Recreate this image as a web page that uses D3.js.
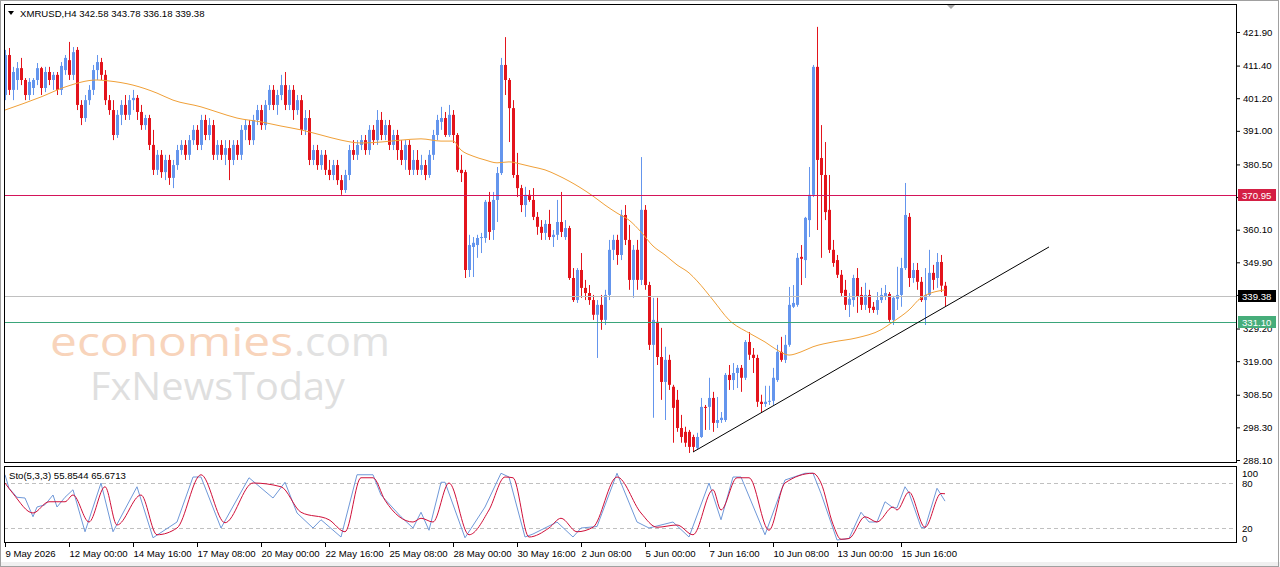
<!DOCTYPE html>
<html>
<head>
<meta charset="utf-8">
<script src="https://cdnjs.cloudflare.com/ajax/libs/d3/7.8.5/d3.min.js"></script>
<style>
html, body { margin: 0; padding: 0; background: #fff; }
svg { display: block; font-family: "Liberation Sans", Arial, sans-serif; }
</style>
</head>
<body>
<svg id="chart" width="1280" height="567"></svg>
<script>

// ---------------- data ----------------

var symbol = "XMRUSD,H4";
var firstBar = Date.UTC(2026, 4, 9, 8, 0);   // first H4 bar on screen
var barMs = 4 * 3600 * 1000;

// [open, high, low, close] for each H4 bar
var ohlc = [
    [402.2, 416.3, 400.6, 414.7], [414.7, 416.9, 402.2, 403.8], [403.8, 411.0, 400.6, 409.4], [406.9, 412.5, 403.8, 410.6], [410.6, 413.8, 405.3, 406.9],
    [406.9, 407.5, 400.6, 402.2], [402.2, 407.5, 400.6, 406.3], [404.4, 407.5, 402.2, 406.9], [406.9, 412.2, 405.3, 410.6], [410.6, 411.0, 402.2, 404.4],
    [404.4, 411.0, 403.1, 409.4], [409.4, 411.0, 405.3, 406.9], [406.9, 409.4, 403.8, 408.5], [408.5, 409.4, 402.2, 403.8], [403.8, 412.5, 402.2, 411.3],
    [410.0, 414.7, 408.5, 413.8], [413.1, 418.8, 406.9, 408.5], [408.5, 417.2, 406.9, 415.6], [416.3, 417.2, 397.5, 399.1], [399.1, 400.6, 392.8, 395.0],
    [395.0, 402.2, 393.8, 400.6], [400.6, 405.3, 399.1, 403.8], [403.8, 411.6, 402.2, 410.0], [410.0, 414.7, 406.9, 412.5], [412.5, 413.8, 406.9, 408.5],
    [408.5, 410.0, 399.1, 400.6], [400.6, 402.2, 396.0, 397.5], [397.5, 400.6, 388.1, 389.7], [389.7, 397.5, 388.8, 396.0], [396.0, 400.6, 392.8, 399.1],
    [399.1, 402.2, 394.4, 396.0], [396.0, 402.2, 394.4, 400.6], [400.6, 403.8, 397.5, 401.3], [401.3, 402.2, 394.4, 396.9], [396.9, 399.1, 391.3, 392.8],
    [392.8, 396.0, 391.3, 395.0], [395.0, 396.0, 385.0, 386.6], [386.6, 391.3, 377.2, 378.8], [378.8, 385.0, 377.2, 383.5], [383.5, 385.0, 376.3, 378.1],
    [378.1, 383.5, 375.6, 381.9], [381.9, 383.5, 374.1, 376.3], [376.3, 381.9, 373.1, 380.3], [380.3, 386.6, 378.8, 385.0], [385.0, 388.1, 383.5, 386.6],
    [386.6, 388.1, 381.9, 383.5], [383.5, 389.7, 381.9, 388.1], [388.1, 392.8, 386.6, 391.3], [391.3, 392.8, 385.0, 386.6], [386.6, 396.0, 385.0, 394.4],
    [394.4, 396.0, 388.1, 389.7], [389.7, 395.0, 388.1, 392.8], [392.8, 394.4, 381.9, 383.5], [383.5, 388.1, 381.9, 386.6], [386.6, 388.1, 381.9, 383.5],
    [383.5, 388.1, 380.3, 385.6], [385.6, 388.1, 375.6, 381.9], [381.9, 388.1, 380.3, 386.6], [386.6, 388.1, 381.9, 383.5], [383.5, 392.8, 381.9, 391.3],
    [391.3, 394.4, 388.1, 392.8], [392.8, 394.4, 386.6, 388.1], [388.1, 396.0, 386.6, 394.4], [394.4, 399.1, 392.8, 397.5], [397.5, 399.1, 391.3, 392.8],
    [392.8, 400.6, 391.3, 399.1], [399.1, 405.3, 397.5, 403.8], [403.8, 405.3, 397.5, 399.1], [399.1, 403.8, 396.0, 402.2], [402.2, 408.5, 400.6, 405.3],
    [405.3, 409.4, 397.5, 399.1], [399.1, 405.3, 397.5, 403.8], [403.8, 405.3, 394.4, 397.5], [397.5, 402.2, 396.0, 400.6], [400.6, 402.2, 389.7, 391.3],
    [391.3, 397.5, 389.7, 395.0], [395.0, 397.5, 380.3, 381.9], [381.9, 386.6, 380.3, 385.0], [385.0, 386.6, 378.8, 380.3], [380.3, 385.0, 378.8, 383.5],
    [383.5, 385.0, 377.2, 378.8], [378.8, 381.9, 375.6, 377.2], [377.2, 381.9, 375.6, 380.3], [380.3, 381.9, 374.1, 375.6], [375.6, 377.2, 371.0, 372.5],
    [372.5, 378.8, 371.6, 377.2], [377.2, 386.6, 375.6, 385.0], [385.0, 388.1, 381.9, 383.5], [383.5, 388.1, 381.9, 386.6], [386.6, 389.7, 385.0, 388.1],
    [388.1, 389.7, 383.5, 385.0], [385.0, 392.8, 383.5, 391.3], [391.3, 392.8, 386.6, 388.1], [388.1, 397.5, 386.6, 394.4], [394.4, 396.9, 388.1, 389.7],
    [389.7, 394.4, 388.1, 392.8], [392.8, 394.4, 385.0, 386.6], [386.6, 391.3, 385.0, 389.7], [389.7, 391.3, 381.9, 385.0], [385.0, 388.1, 380.3, 381.9],
    [381.9, 388.1, 378.8, 386.6], [386.6, 388.1, 377.2, 378.8], [378.8, 385.0, 377.2, 381.9], [381.9, 385.0, 377.2, 378.8], [378.8, 383.5, 377.2, 380.3],
    [380.3, 381.9, 375.6, 377.2], [377.2, 385.0, 376.3, 383.5], [383.5, 391.3, 381.9, 389.7], [389.7, 396.0, 388.1, 394.4], [393.8, 398.5, 391.3, 395.0],
    [395.0, 396.9, 389.1, 389.7], [389.7, 399.1, 389.1, 396.0], [396.0, 397.5, 387.2, 389.7], [389.7, 390.3, 378.1, 378.8], [378.8, 383.5, 375.0, 377.8],
    [378.1, 378.8, 345.0, 347.5], [347.5, 358.5, 345.3, 355.3], [354.7, 357.8, 345.3, 356.0], [355.3, 358.5, 351.3, 357.5], [357.5, 359.1, 352.8, 357.8],
    [357.5, 369.4, 356.0, 368.8], [368.8, 371.9, 356.9, 359.4], [360.0, 371.9, 356.9, 369.4], [369.4, 379.7, 362.5, 377.8], [377.8, 413.8, 377.2, 411.6],
    [411.6, 420.3, 402.2, 406.9], [406.9, 407.5, 387.5, 398.1], [398.1, 400.6, 376.3, 377.2], [377.2, 384.1, 370.3, 373.1], [373.1, 374.1, 365.6, 367.8],
    [367.8, 373.5, 364.1, 371.0], [371.0, 372.5, 368.8, 369.4], [369.4, 373.1, 363.1, 364.1], [364.1, 365.6, 358.5, 361.0], [361.0, 363.1, 356.9, 359.1],
    [359.1, 363.1, 356.9, 361.9], [361.9, 366.3, 356.9, 357.8], [357.8, 360.0, 354.7, 358.5], [358.5, 369.4, 356.9, 362.5], [362.5, 371.9, 357.8, 359.4],
    [357.8, 363.1, 356.9, 360.6], [360.6, 361.3, 344.4, 345.0], [345.0, 348.1, 337.5, 338.1], [338.1, 348.1, 337.2, 347.5], [347.5, 352.8, 338.8, 341.9],
    [341.9, 344.4, 338.1, 340.3], [340.3, 342.8, 336.6, 338.1], [338.1, 339.7, 331.9, 333.5], [333.5, 338.1, 320.0, 336.6], [336.6, 339.7, 328.8, 331.9],
    [331.9, 341.3, 330.3, 339.7], [339.7, 356.9, 338.1, 353.8], [353.8, 358.5, 350.6, 356.9], [356.9, 358.5, 349.1, 352.2], [352.2, 366.3, 350.6, 364.7],
    [364.7, 367.8, 355.3, 356.9], [356.9, 361.6, 341.3, 344.4], [344.4, 355.3, 338.8, 353.8], [353.8, 356.9, 341.3, 344.4], [344.4, 382.8, 342.8, 366.3],
    [366.3, 367.8, 341.3, 342.8], [342.8, 343.8, 322.5, 324.1], [324.1, 338.8, 301.3, 331.9], [331.3, 338.8, 317.8, 320.3], [320.3, 329.4, 306.9, 312.5],
    [312.5, 323.5, 300.6, 319.4], [319.4, 321.0, 310.0, 311.6], [311.0, 311.6, 293.5, 304.4], [306.9, 310.0, 296.9, 298.1], [298.1, 302.2, 293.5, 295.3],
    [296.9, 298.5, 292.2, 293.5], [296.9, 297.5, 290.3, 292.2], [295.3, 296.0, 290.6, 292.2], [291.9, 296.6, 291.3, 295.3], [295.3, 307.5, 295.0, 304.7],
    [304.7, 305.3, 297.5, 304.4], [304.7, 313.8, 297.5, 307.5], [307.5, 309.4, 296.9, 299.7], [299.7, 307.8, 298.1, 300.6], [300.6, 303.1, 299.7, 301.3],
    [300.6, 315.3, 300.0, 314.7], [314.7, 317.8, 310.0, 313.1], [313.1, 318.4, 310.0, 315.3], [315.3, 317.8, 310.6, 316.9], [316.9, 317.8, 309.4, 313.8],
    [313.8, 325.6, 313.1, 325.0], [325.0, 328.1, 319.4, 321.0], [321.0, 323.1, 315.3, 320.0], [320.0, 321.0, 304.7, 306.3], [306.3, 308.5, 303.1, 305.6],
    [305.6, 311.3, 304.7, 306.3], [306.3, 311.3, 305.3, 306.6], [306.6, 316.9, 305.3, 313.8], [313.1, 324.1, 312.5, 321.9], [321.9, 326.6, 318.8, 319.4],
    [319.4, 327.2, 318.4, 324.1], [324.1, 342.2, 323.5, 336.6], [336.0, 342.8, 335.6, 337.2], [336.6, 352.8, 336.0, 351.3], [351.6, 355.3, 342.8, 351.0],
    [350.6, 364.1, 345.0, 363.8], [363.1, 379.7, 357.8, 371.0], [371.0, 411.6, 370.3, 411.0], [411.0, 423.5, 360.0, 381.9], [382.5, 392.8, 351.3, 377.2],
    [377.2, 387.5, 363.1, 365.6], [366.3, 377.2, 352.8, 353.8], [353.8, 356.9, 348.5, 349.7], [350.6, 352.2, 345.0, 346.0], [346.0, 347.5, 339.1, 340.3],
    [341.3, 344.4, 335.0, 336.6], [336.6, 340.3, 332.8, 338.5], [338.1, 346.0, 336.0, 345.0], [345.0, 348.1, 334.1, 339.1], [339.7, 342.2, 335.0, 336.6],
    [336.6, 343.5, 335.0, 339.7], [339.7, 341.3, 334.1, 335.6], [336.0, 337.5, 334.1, 335.0], [335.0, 340.6, 333.5, 338.1], [338.1, 341.9, 337.2, 339.7],
    [339.1, 342.8, 338.1, 340.3], [340.0, 340.6, 331.3, 331.9], [331.9, 339.4, 330.3, 338.8], [338.5, 348.5, 335.0, 339.7], [339.7, 351.3, 336.0, 348.1],
    [348.1, 374.7, 347.5, 364.7], [364.1, 365.3, 342.2, 345.0], [345.0, 349.7, 343.5, 347.5], [347.5, 349.7, 341.3, 343.8], [343.8, 345.3, 337.5, 338.1],
    [338.1, 348.1, 330.3, 339.7], [339.7, 353.8, 339.1, 346.6], [346.6, 349.1, 341.3, 344.4], [345.0, 352.8, 341.9, 350.0], [350.0, 352.2, 340.6, 342.6],
    [342.58, 343.78, 336.18, 339.38]
];

// orange moving average: [bar, price]
var maLine = [
    [0, 397.5], [9, 401.6], [15, 404.7], [23, 406.9], [26, 406.6], [32, 405.3], [38, 402.8], [42, 400.6],
    [49, 398.5], [53, 396.9], [58, 395.0], [64, 393.8], [69, 392.5], [74, 391.3], [79, 389.7], [84, 388.1],
    [89, 387.2], [94, 387.5], [99, 388.1], [104, 388.5], [109, 387.8], [112, 387.8], [114, 385.0], [117, 383.1],
    [120, 381.9], [123, 381.0], [126, 381.3], [129, 380.6], [132, 379.7], [135, 378.8], [138, 377.2], [141, 375.3],
    [144, 373.1], [147, 370.6], [150, 367.8], [153, 365.3], [156, 363.1], [159, 359.4], [162, 355.0], [165, 352.2],
    [168, 349.1], [171, 346.6], [173, 344.1], [177, 338.1], [181, 331.9], [186, 327.8], [190, 325.0], [193, 322.5],
    [196, 320.9], [199, 321.9], [202, 323.5], [207, 325.0], [213, 326.3], [219, 328.8], [222, 331.3], [226, 335.0],
    [229, 338.8], [235, 341.3]
];

// stochastic %K (blue) and %D (red): [bar, value]
var stoK = [
    [0, 91], [1, 73], [3, 61], [5, 60], [7, 35], [8, 48], [10, 51], [12, 64], [13, 48], [15, 61], [17, 71], [20, 15],
    [24, 80], [27, 15], [33, 75], [37, 7], [43, 28], [47, 88], [49, 88], [54, 20], [61, 87], [67, 60], [70, 81], [73, 40],
    [77, 20], [79, 31], [84, 8], [88, 91], [92, 91], [94, 64], [99, 35], [102, 20], [104, 41], [106, 17], [109, 81], [110, 81],
    [115, 7], [120, 48], [124, 93], [126, 88], [130, 8], [132, 12], [138, 28], [142, 8], [144, 20], [148, 22], [153, 93], [158, 28],
    [161, 20], [167, 28], [171, 8], [176, 80], [179, 31], [182, 88], [184, 88], [190, 11], [195, 84], [200, 93], [202, 93], [204, 66],
    [208, 4], [211, 6], [214, 41], [216, 28], [218, 28], [220, 55], [222, 47], [223, 47], [225, 75], [226, 67], [229, 21], [230, 20],
    [233, 73], [235, 55.85]
];
var stoD = [
    [0, 80], [2, 66], [7, 40], [11, 55], [15, 55], [17, 64], [21, 28], [25, 75], [28, 24], [34, 64], [38, 11], [43, 20],
    [49, 91], [55, 27], [62, 80], [69, 75], [74, 41], [81, 31], [85, 15], [89, 87], [92, 87], [95, 57], [102, 28], [104, 33],
    [107, 28], [111, 80], [116, 11], [121, 44], [125, 88], [127, 87], [131, 8], [136, 20], [139, 33], [143, 15], [147, 21], [153, 88],
    [159, 40], [163, 21], [168, 24], [172, 11], [177, 71], [179, 44], [183, 87], [186, 87], [191, 17], [195, 80], [202, 93], [204, 80],
    [207, 25], [209, 5], [211, 6], [215, 35], [218, 28], [222, 48], [223, 44], [226, 68], [230, 21], [234, 66], [235, 65.67]
];
var stoName = "Sto(5,3,3)";
var stoLast = ["55.8544", "65.6713"];

var priceTicks = [421.90, 411.40, 401.20, 391.00, 380.50, 370.30, 360.10, 349.90, 339.70, 329.20, 319.00, 308.50, 298.30, 288.10];
var stoTicks = [100, 80, 20, 0];
var stoLevels = [80, 20];
var timeTicks = [
    "2026-05-09T08:00Z", "2026-05-12T00:00Z", "2026-05-14T16:00Z", "2026-05-17T08:00Z", "2026-05-20T00:00Z",
    "2026-05-22T16:00Z", "2026-05-25T08:00Z", "2026-05-28T00:00Z", "2026-05-30T16:00Z", "2026-06-02T08:00Z",
    "2026-06-05T00:00Z", "2026-06-07T16:00Z", "2026-06-10T08:00Z", "2026-06-13T00:00Z", "2026-06-15T16:00Z"
];

var resistance = 370.95;
var support = 331.10;
var trendLine = [[172, 290.6], [261, 354.7]];   // [bar, price]

// ---------------- drawing ----------------

var bull = "#6495ed", bear = "#e3141c";
var fontSize = 9.6;

var svg = d3.select("#chart");
var barTime = function (i) { return new Date(firstBar + i * barMs); };
var last = ohlc[ohlc.length - 1];

var x = d3.scaleTime()
    .domain([barTime(0), barTime(ohlc.length - 1)])
    .range([5, 945]);
var y = d3.scaleLinear().domain([288.10, 421.90]).range([460, 32]);
var ys = d3.scaleLinear().domain([0, 100]).range([543, 468]);
var px = function (i) { return Math.round(x(barTime(i))); };
var crisp = function (v) { return Math.round(v) + 0.5; };

// outer window
svg.append("rect").attr("width", 1280).attr("height", 567).attr("fill", "#fff");
svg.append("rect").attr("x", 0).attr("y", 562).attr("width", 1280).attr("height", 5).attr("fill", "#f0f0f0");
svg.append("rect")
    .attr("x", 0.5).attr("y", 0.5).attr("width", 1278).attr("height", 566)
    .attr("fill", "none").attr("stroke", "#a0a0a0");

svg.append("defs").append("clipPath").attr("id", "clipMain")
    .append("rect").attr("x", 4).attr("y", 4).attr("width", 1233).attr("height", 459);

// watermark (one text block, three runs)
var wm = svg.append("text").attr("font-family", "'Open Sans', 'Liberation Sans', sans-serif");
wm.append("tspan").attr("x", 50).attr("y", 356).attr("font-size", 41)
    .attr("textLength", 243).attr("lengthAdjust", "spacingAndGlyphs")
    .attr("fill", "#f8d4bb").text("economies");
wm.append("tspan").attr("x", 294).attr("y", 356).attr("font-size", 41)
    .attr("textLength", 96).attr("lengthAdjust", "spacingAndGlyphs")
    .attr("fill", "#e2e2e2").text(".com");
wm.append("tspan").attr("x", 90).attr("y", 400).attr("font-size", 39)
    .attr("textLength", 255).attr("lengthAdjust", "spacingAndGlyphs")
    .attr("fill", "#dfdfdf").text("FxNewsToday");

var plot = svg.append("g").attr("clip-path", "url(#clipMain)");

// candles
var candle = plot.selectAll("g.candle").data(ohlc).join("g").attr("class", "candle");
candle.append("line")
    .attr("x1", function (d, i) { return px(i) + 0.5; })
    .attr("x2", function (d, i) { return px(i) + 0.5; })
    .attr("y1", function (d) { return y(d[1]); })
    .attr("y2", function (d) { return y(d[2]); })
    .attr("stroke", function (d) { return d[3] >= d[0] ? bull : bear; })
    .attr("stroke-width", 1);
candle.append("rect")
    .attr("x", function (d, i) { return px(i) - 1; })
    .attr("width", 3)
    .attr("y", function (d) { return y(Math.max(d[0], d[3])); })
    .attr("height", function (d) { return Math.max(1, Math.abs(y(d[0]) - y(d[3]))); })
    .attr("fill", function (d) { return d[3] >= d[0] ? bull : bear; });

// moving average
plot.append("path")
    .attr("d", d3.line()
        .x(function (d) { return x(barTime(d[0])); })
        .y(function (d) { return y(d[1]); })
        .curve(d3.curveMonotoneX)(maLine))
    .attr("fill", "none").attr("stroke", "#f0a038").attr("stroke-width", 1);

// horizontal levels + bid line (drawn as thin rects so the colour stays solid)
var hline = function (v, color) {
    plot.append("rect")
        .attr("x", 4).attr("width", 1233)
        .attr("y", Math.round(y(v))).attr("height", 1)
        .attr("fill", color);
};
hline(resistance, "#d4145a");
hline(last[3], "#c0c0c0");
hline(support, "#3aa57a");

// trend line
plot.append("line")
    .attr("x1", x(barTime(trendLine[0][0]))).attr("y1", y(trendLine[0][1]))
    .attr("x2", x(barTime(trendLine[1][0]))).attr("y2", y(trendLine[1][1]))
    .attr("stroke", "#000").attr("stroke-width", 1);

// chart shift marker
svg.append("path").attr("d", "M946,4 L956,4 L951,9 Z").attr("fill", "#a8a8a8");

// header
svg.append("path").attr("d", "M8,11 L14,11 L11,15 Z").attr("fill", "#000");
svg.append("text").attr("x", 20).attr("y", 17).attr("font-size", fontSize).attr("fill", "#000")
    .text(symbol + "  " + last.map(function (v) { return v.toFixed(2); }).join(" "));

// price axis
var pAxis = svg.append("g").attr("transform", "translate(1237,0)")
    .call(d3.axisRight(y).tickValues(priceTicks).tickSize(3).tickPadding(3).tickFormat(d3.format(".2f")));
pAxis.select(".domain").remove();
pAxis.selectAll("line").attr("stroke", "#000");
pAxis.selectAll("text").attr("font-size", fontSize).attr("font-family", "'Liberation Sans', Arial, sans-serif").attr("fill", "#000");

// price tags on the axis
var tag = function (v, bg, txt) {
    var g = svg.append("g").attr("transform", "translate(1238," + Math.round(y(v)) + ")");
    g.append("rect").attr("x", 0).attr("y", -6).attr("width", 38).attr("height", 12).attr("fill", bg);
    g.append("text").attr("x", 4).attr("y", 3.5).attr("font-size", fontSize).attr("fill", txt).text(v.toFixed(2));
};
tag(resistance, "#d41f44", "#fff");
tag(last[3], "#000", "#fff");
tag(support, "#46ad7a", "#fff");

// stochastic panel
var sto = svg.append("g");
stoLevels.forEach(function (v) {
    sto.append("line")
        .attr("x1", 4).attr("x2", 1237)
        .attr("y1", crisp(ys(v))).attr("y2", crisp(ys(v)))
        .attr("stroke", "#c0c0c0").attr("stroke-dasharray", "4,3");
});
var stoLine = d3.line()
    .x(function (d) { return x(barTime(d[0])); })
    .y(function (d) { return ys(d[1]); });
sto.append("path").attr("d", stoLine(stoK))
    .attr("fill", "none").attr("stroke", "#6f98d8").attr("stroke-width", 1);
sto.append("path").attr("d", stoLine.curve(d3.curveMonotoneX)(stoD))
    .attr("fill", "none").attr("stroke", "#d0103a").attr("stroke-width", 1);
sto.append("text").attr("x", 9).attr("y", 479).attr("font-size", fontSize).attr("fill", "#000")
    .text(stoName + " " + stoLast.join(" "));

var sAxis = svg.append("g").attr("transform", "translate(1237,0)")
    .call(d3.axisRight(ys).tickValues(stoTicks).tickSize(0).tickPadding(5));
sAxis.select(".domain").remove();
sAxis.selectAll("text").attr("font-size", fontSize).attr("font-family", "'Liberation Sans', Arial, sans-serif").attr("fill", "#000")
    .attr("dy", function (d) { return d === 100 ? "0.85em" : d === 0 ? "-0.15em" : "0.32em"; });

// frames
svg.append("rect").attr("x", 4.5).attr("y", 4.5).attr("width", 1232).attr("height", 458)
    .attr("fill", "none").attr("stroke", "#000");
svg.append("rect").attr("x", 4.5).attr("y", 466.5).attr("width", 1232).attr("height", 76)
    .attr("fill", "none").attr("stroke", "#000");

// time axis
var fmtFirst = d3.utcFormat("%-d %b %Y");
var fmtTick = d3.utcFormat("%-d %b %H:%M");
var tDates = timeTicks.map(function (s) { return new Date(s); });
var tAxis = svg.append("g").attr("transform", "translate(0,543)")
    .call(d3.axisBottom(x).tickValues(tDates).tickSize(4).tickPadding(3)
        .tickFormat(function (d, i) { return i === 0 ? fmtFirst(d) : fmtTick(d); }));
tAxis.select(".domain").remove();
tAxis.selectAll("line").attr("stroke", "#000");
tAxis.selectAll("text").attr("text-anchor", "start").attr("x", 0)
    .attr("font-size", fontSize).attr("font-family", "'Liberation Sans', Arial, sans-serif").attr("fill", "#000");

</script>
</body>
</html>
